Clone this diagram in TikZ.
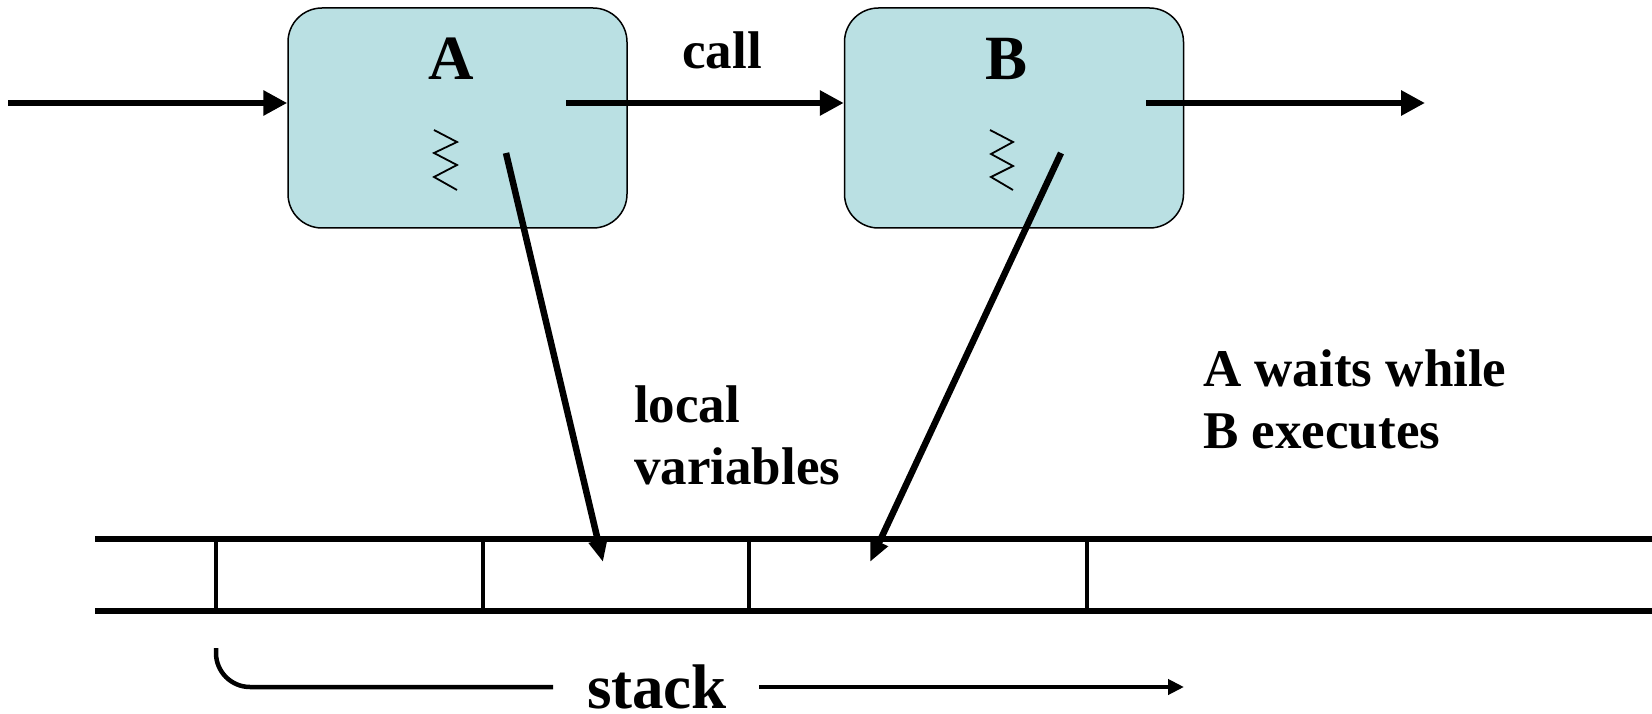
\documentclass[tikz,border=0pt]{standalone}
\usepackage{fontspec}
\setmainfont{Liberation Serif}
\usetikzlibrary{arrows.meta}
\definecolor{procfill}{RGB}{186,224,227}
\begin{document}
\begin{tikzpicture}[x=1pt,y=-1pt,
  proc/.style={draw=black, line width=1.5pt, fill=procfill, rounded corners=34pt,
    minimum width=339pt, minimum height=220pt, inner sep=0pt},
  bigtxt/.style={font=\fontsize{63}{63}\selectfont\bfseries, inner sep=0pt},
  txt/.style={font=\fontsize{53}{62}\selectfont\bfseries, inner sep=0pt, align=left},
  flow/.style={line width=6.5pt, -{Triangle[length=24pt,width=24pt]}},
  ptr/.style={line width=6.5pt, -{Triangle[length=22pt,width=18pt]}},
  rail/.style={line width=6pt},
  cellwall/.style={line width=4pt},
  spring/.style={line width=1.8pt, line join=miter},
  growline/.style={line width=4.5pt},
  growarrow/.style={line width=4.5pt, -{Triangle[length=16pt,width=15pt]}}]
  \useasboundingbox (0,0) rectangle (1652,714);

  % procedure boxes
  \node[proc] (A) at (457.5,118) {};
  \node[proc] (B) at (1014,118) {};
  \node[bigtxt, anchor=base] (Alab) at (451,80) {A};
  \node[bigtxt, anchor=base] (Blab) at (1006,80) {B};
  \node[txt, anchor=base] (call) at (722,69) {call};

  % activity springs inside the boxes
  \draw[spring] (434,130) -- (457,142) -- (434,153) -- (457,165) -- (434,177) -- (457,190);
  \draw[spring] (990,130) -- (1013,142) -- (991,154) -- (1013,166) -- (991,177) -- (1013,190);

  % control flow
  \coordinate (in) at (8,103);
  \coordinate (aout) at (566,103);
  \coordinate (bout) at (1146,103);
  \coordinate (out) at (1425,103);
  \draw[flow] (in) -- (A.west |- in);
  \draw[flow] (aout) -- (B.west |- aout);
  \draw[flow] (bout) -- (out);

  % stack
  \draw[rail] (95,539) -- (1652,539);
  \draw[rail] (95,611) -- (1652,611);
  \foreach \x in {216,483,749,1087}
    \draw[cellwall] (\x,539) -- (\x,611);

  % frames pointing into the stack
  \coordinate (aframe) at (506,153);
  \coordinate (bframe) at (1061,153);
  \coordinate (aslot) at (603,562);
  \coordinate (bslot) at (870,562);
  \draw[ptr] (aframe) -- (aslot);
  \draw[ptr] (bframe) -- (bslot);

  % multi-line labels: base anchor sits on the last line
  \node[txt, anchor=base west] (locals) at (634,484) {local\\variables};
  \node[txt, anchor=base west] (waits) at (1203,448) {A waits while\\B executes};

  % stack growth
  \node[bigtxt, anchor=base] (stack) at (657,708) {stack};
  \coordinate (gstart) at (216,648);
  \coordinate (gend) at (553,687);
  \coordinate (gtail) at (759,687);
  \coordinate (gtip) at (1184,687);
  \draw[growline, rounded corners=34pt] (gstart) |- (gend);
  \draw[growarrow] (gtail) -- (gtip);
\end{tikzpicture}
\end{document}
